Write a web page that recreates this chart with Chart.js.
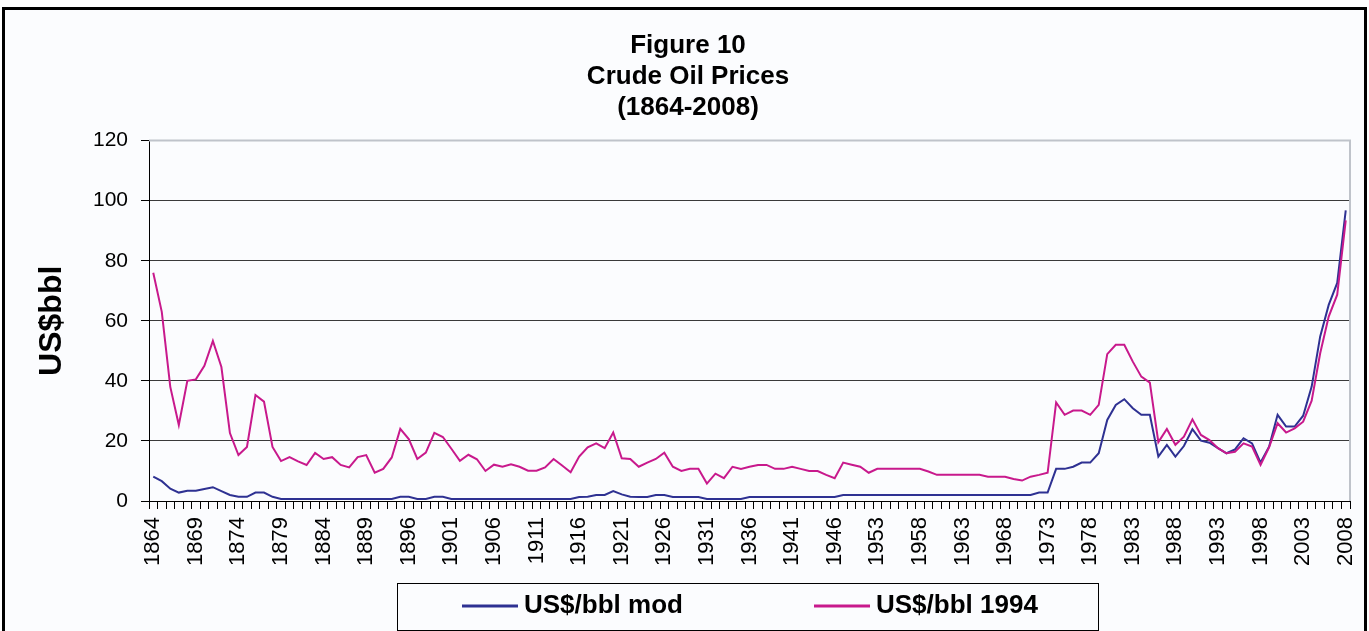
<!DOCTYPE html>
<html>
<head>
    <title>Crude Oil Prices</title>
    <script src="https://cdn.jsdelivr.net/npm/chart.js@4.4.0/dist/chart.umd.min.js"></script>
    <style>
        body { margin: 0; background: #ffffff; }
        canvas { display: block; }
    </style>
</head>
<body>
<canvas id="oilChart" width="1369" height="631"></canvas>
<script>
    // years on the category axis (a few years are missing in the source table)
    const years = [
        1864, 1865, 1866, 1867, 1868, 1869, 1870, 1871, 1872, 1873,
        1874, 1875, 1876, 1877, 1878, 1879, 1880, 1881, 1882, 1883,
        1884, 1885, 1886, 1887, 1888, 1889, 1890, 1892, 1893, 1895,
        1896, 1897, 1898, 1899, 1900, 1901, 1902, 1903, 1904, 1905,
        1906, 1907, 1908, 1909, 1910, 1911, 1912, 1913, 1914, 1915,
        1916, 1917, 1918, 1919, 1920, 1921, 1922, 1923, 1924, 1925,
        1926, 1927, 1928, 1929, 1930, 1931, 1932, 1933, 1934, 1935,
        1936, 1937, 1938, 1939, 1940, 1941, 1942, 1943, 1944, 1945,
        1946, 1947, 1948, 1950, 1952, 1953, 1954, 1955, 1956, 1957,
        1958, 1959, 1960, 1961, 1962, 1963, 1964, 1965, 1966, 1967,
        1968, 1969, 1970, 1971, 1972, 1973, 1974, 1975, 1976, 1977,
        1978, 1979, 1980, 1981, 1982, 1983, 1984, 1985, 1986, 1987,
        1988, 1989, 1990, 1991, 1992, 1993, 1994, 1995, 1996, 1997,
        1998, 1999, 2000, 2001, 2002, 2003, 2004, 2005, 2006, 2007,
        2008
    ];

    // US$/bbl, money of the day
    const priceMod = [
        8.1, 6.6, 4.1, 2.8, 3.4, 3.4, 4.0, 4.6, 3.3, 2.0,
        1.4, 1.4, 2.8, 2.8, 1.4, 0.7, 0.7, 0.7, 0.7, 0.7,
        0.7, 0.7, 0.7, 0.7, 0.7, 0.7, 0.7, 0.7, 0.7, 1.4,
        1.4, 0.7, 0.7, 1.4, 1.4, 0.7, 0.7, 0.7, 0.7, 0.7,
        0.7, 0.7, 0.7, 0.7, 0.7, 0.7, 0.7, 0.7, 0.7, 0.7,
        1.3, 1.4, 2.0, 2.0, 3.3, 2.2, 1.4, 1.3, 1.3, 2.0,
        2.0, 1.3, 1.3, 1.3, 1.3, 0.7, 0.7, 0.7, 0.7, 0.7,
        1.3, 1.3, 1.3, 1.3, 1.3, 1.3, 1.3, 1.3, 1.3, 1.3,
        1.3, 2.0, 2.0, 2.0, 2.0, 2.0, 2.0, 2.0, 2.0, 2.0,
        2.0, 2.0, 2.0, 2.0, 2.0, 2.0, 2.0, 2.0, 2.0, 2.0,
        2.0, 2.0, 2.0, 2.0, 2.8, 2.8, 10.7, 10.7, 11.4, 12.8,
        12.8, 15.9, 27.0, 32.0, 33.9, 30.9, 28.7, 28.7, 14.8, 18.7,
        14.8, 18.3, 23.9, 20.1, 19.4, 17.6, 15.9, 17.2, 20.9, 19.2,
        12.8, 18.1, 28.7, 24.8, 24.8, 28.4, 38.1, 54.8, 65.3, 72.6,
        96.8
    ];

    // US$/bbl in 1994 money
    const price1994 = [
        76.0, 63.0, 38.0, 25.3, 40.0, 40.5, 45.0, 53.3, 44.6, 22.6,
        15.3, 18.0, 35.3, 33.1, 18.0, 13.3, 14.6, 13.2, 12.0, 16.0,
        14.0, 14.6, 12.0, 11.2, 14.6, 15.3, 9.4, 10.7, 14.5, 24.0,
        20.6, 14.0, 16.1, 22.7, 21.3, 17.4, 13.4, 15.4, 13.9, 10.0,
        12.1, 11.4, 12.2, 11.4, 10.1, 10.1, 11.2, 14.0, 11.8, 9.6,
        14.8, 17.9, 19.2, 17.6, 22.8, 14.2, 14.0, 11.4, 12.8, 14.0,
        16.1, 11.4, 10.0, 10.7, 10.7, 5.8, 9.1, 7.6, 11.4, 10.7,
        11.4, 12.0, 12.0, 10.7, 10.7, 11.4, 10.7, 10.0, 10.0, 8.7,
        7.6, 12.8, 12.1, 11.4, 9.4, 10.7, 10.7, 10.7, 10.7, 10.7,
        10.7, 9.8, 8.7, 8.7, 8.7, 8.7, 8.7, 8.7, 8.1, 8.1,
        8.1, 7.3, 6.8, 8.1, 8.7, 9.4, 32.8, 28.7, 30.1, 30.1,
        28.7, 32.0, 48.9, 52.0, 52.0, 46.4, 41.4, 39.4, 19.6, 24.0,
        18.7, 21.4, 27.2, 22.0, 20.3, 17.6, 15.9, 16.4, 19.2, 18.1,
        12.0, 17.9, 25.9, 22.8, 24.2, 26.4, 33.4, 49.2, 61.4, 68.7,
        93.4
    ];

    const seriesNames = ['US$/bbl mod', 'US$/bbl 1994'];
    const titleLines = ['Figure 10', 'Crude Oil Prices', '(1864-2008)'];
    const yAxisTitle = 'US$bbl';
    const labelEvery = 5;

    const fontFamily = '"Liberation Sans", Arial, sans-serif';
    const blue = '#2e3192';
    const magenta = '#c8198c';

    // page frame + plot area border
    const framePlugin = {
        id: 'frame',
        beforeDraw(chart) {
            const ctx = chart.ctx;
            ctx.save();
            ctx.fillStyle = '#ffffff';
            ctx.fillRect(0, 0, chart.width, chart.height);
            ctx.fillStyle = '#fbfcfe';
            ctx.fillRect(3, 8, 1363, 640);
            ctx.strokeStyle = '#000000';
            ctx.lineWidth = 3;
            ctx.strokeRect(3.5, 8.5, 1362, 640);
            ctx.restore();
        },
        beforeDatasetsDraw(chart) {
            const a = chart.chartArea;
            const ctx = chart.ctx;
            ctx.save();
            ctx.strokeStyle = '#bfc3ca';
            ctx.lineWidth = 2;
            ctx.beginPath();
            ctx.moveTo(a.left, a.top);
            ctx.lineTo(a.right, a.top);
            ctx.lineTo(a.right, a.bottom);
            ctx.stroke();
            ctx.restore();
        }
    };

    // legend box like the excel one, drawn from the dataset settings
    const legendPlugin = {
        id: 'boxLegend',
        afterDraw(chart) {
            const ctx = chart.ctx;
            const items = [{ x: 462 }, { x: 814 }];
            ctx.save();
            ctx.strokeStyle = '#000000';
            ctx.lineWidth = 1;
            ctx.strokeRect(397.5, 583.5, 701, 47);
            ctx.font = 'bold 26px ' + fontFamily;
            ctx.textBaseline = 'middle';
            ctx.fillStyle = '#000000';
            chart.data.datasets.forEach((ds, i) => {
                const x = items[i].x;
                ctx.strokeStyle = ds.borderColor;
                ctx.lineWidth = 3;
                ctx.beginPath();
                ctx.moveTo(x, 606);
                ctx.lineTo(x + 56, 606);
                ctx.stroke();
                ctx.fillText(ds.label, x + 62, 606);
            });
            ctx.restore();
        }
    };

    const config = {
        type: 'line',
        data: {
            labels: years,
            datasets: [{
                label: seriesNames[0],
                data: priceMod,
                borderColor: blue,
                borderWidth: 2,
                pointRadius: 0,
                tension: 0,
                fill: false,
                order: 2
            }, {
                label: seriesNames[1],
                data: price1994,
                borderColor: magenta,
                borderWidth: 2,
                pointRadius: 0,
                tension: 0,
                fill: false,
                order: 1
            }]
        },
        options: {
            responsive: false,
            animation: false,
            devicePixelRatio: 1,
            layout: {
                padding: { left: 26, right: 19, top: 0, bottom: 50 }
            },
            plugins: {
                legend: { display: false },
                tooltip: { enabled: false },
                title: {
                    display: true,
                    text: titleLines,
                    color: '#000000',
                    font: { family: fontFamily, size: 26, weight: 'bold', lineHeight: 1.2 },
                    padding: { top: 30, bottom: 17 }
                }
            },
            scales: {
                x: {
                    type: 'category',
                    offset: true,
                    grid: {
                        offset: true,
                        drawOnChartArea: false,
                        drawTicks: true,
                        tickLength: 8,
                        color: '#000000'
                    },
                    border: { color: '#000000', width: 1 },
                    ticks: {
                        autoSkip: false,
                        maxRotation: 90,
                        minRotation: 90,
                        padding: 8,
                        color: '#000000',
                        font: { family: fontFamily, size: 22 },
                        callback: function (value, index) {
                            return index % labelEvery === 0 ? String(years[index]) : '';
                        }
                    },
                    afterFit: (scale) => {
                        scale.height = 80;
                        scale.paddingLeft = 0;
                        scale.paddingRight = 0;
                    }
                },
                y: {
                    min: 0,
                    max: 120,
                    grid: {
                        color: (c) => c.tick.value === 120 ? '#bfc3ca' : '#3a3a3a',
                        tickColor: '#000000',
                        tickLength: 8,
                        lineWidth: 1
                    },
                    border: { color: '#000000', width: 1 },
                    ticks: {
                        stepSize: 20,
                        padding: 13,
                        color: '#000000',
                        font: { family: fontFamily, size: 21 }
                    },
                    title: {
                        display: true,
                        text: yAxisTitle,
                        color: '#000000',
                        font: { family: fontFamily, size: 32, weight: 'bold', lineHeight: 1.2 },
                        padding: { top: 7, bottom: 0 }
                    },
                    afterFit: (scale) => { scale.width = 123; }
                }
            }
        },
        plugins: [framePlugin, legendPlugin]
    };

    const oilChart = new Chart(document.getElementById('oilChart'), config);
</script>
</body>
</html>
